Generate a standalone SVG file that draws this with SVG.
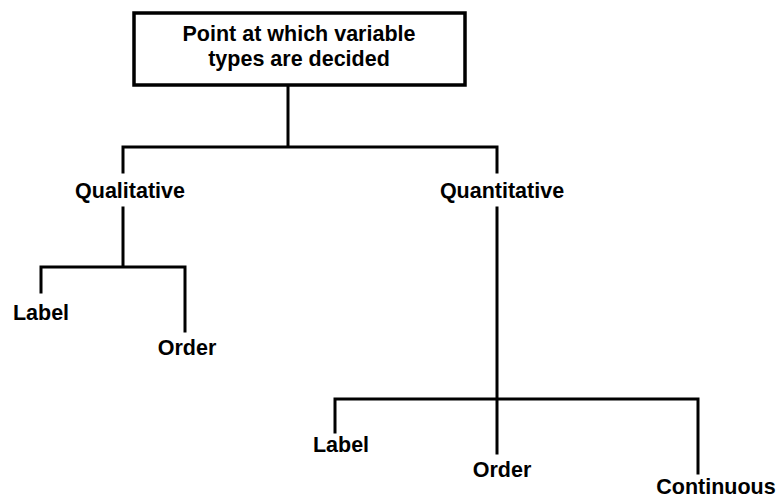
<svg xmlns="http://www.w3.org/2000/svg" width="778" height="500" viewBox="0 0 778 500">
<style>
  text { font-family: "Liberation Sans", Arial, sans-serif; font-weight: bold; font-size: 21.5px; fill: #000; text-anchor: middle; }
  .ln { stroke: #000; stroke-width: 3; fill: none; stroke-linecap: square; }
  .box { stroke: #000; stroke-width: 3.5; fill: #fff; }
</style>
<rect width="778" height="500" fill="#fff"/>
<g id="connectors">
  <path class="ln" d="M288,86 V147 M123,147 H497 M123,147 V172 M497,147 V172"/>
  <path class="ln" d="M123,208 V267 M41,267 H185 M41,267 V292 M185,267 V331"/>
  <path class="ln" d="M497,208 V453 M335,399 H698 M335,399 V432 M698,399 V473"/>
</g>
<g id="root">
  <rect class="box" x="134" y="13" width="331" height="72"/>
  <text x="299" y="41">Point at which variable</text>
  <text x="299" y="66">types are decided</text>
</g>
<g id="qualitative"><text x="130" y="198">Qualitative</text></g>
<g id="quantitative"><text x="502" y="198">Quantitative</text></g>
<g id="qual-label"><text x="41" y="320">Label</text></g>
<g id="qual-order"><text x="187" y="355">Order</text></g>
<g id="quant-label"><text x="341" y="452">Label</text></g>
<g id="quant-order"><text x="502" y="477">Order</text></g>
<g id="quant-continuous"><text x="716" y="494">Continuous</text></g>
</svg>
